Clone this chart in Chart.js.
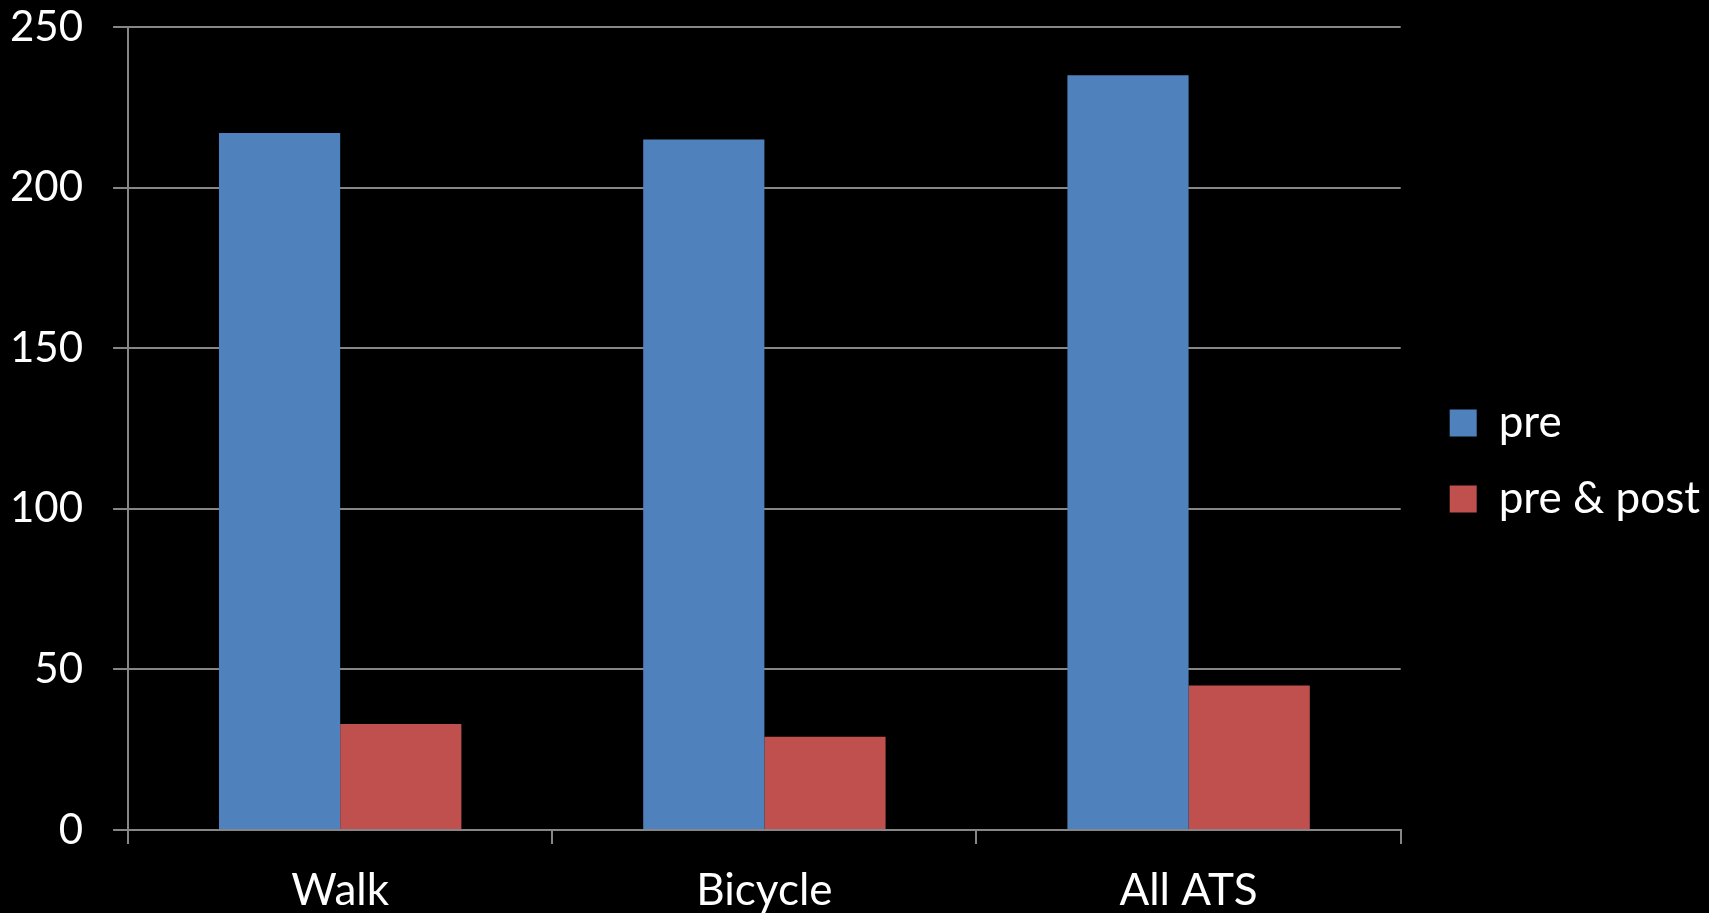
<!DOCTYPE html>
<html>
<head>
<meta charset="utf-8">
<script src="https://cdn.jsdelivr.net/npm/chart.js@4/dist/chart.umd.min.js"></script>
<style>
  html, body { margin: 0; padding: 0; background: #000; overflow: hidden; }
  #wrap { width: 1709px; height: 913px; }
</style>
</head>
<body>
<div id="wrap"><canvas id="myChart"></canvas></div>
<script>
const categories = ['Walk', 'Bicycle', 'All ATS'];
const preValues = [217, 215, 235];
const prePostValues = [33, 29, 45];
const yTicks = [0, 50, 100, 150, 200, 250];

const gridColor = '#868686';
const textColor = '#ffffff';
const fontFamily = 'Lato, "Open Sans", sans-serif';

Chart.defaults.font.family = fontFamily;
Chart.defaults.color = textColor;

// nudge the legend away from the plot
const legendShift = {
  id: 'legendShift',
  afterLayout(chart) {
    chart.legend.left += 17;
    chart.legend.right += 17;
    chart.legend.top -= 8;
    chart.legend.bottom -= 8;
  }
};

const ctx = document.getElementById('myChart').getContext('2d');
const myChart = new Chart(ctx, {
  type: 'bar',
  data: {
    labels: categories,
    datasets: [{
      label: 'pre',
      data: preValues,
      backgroundColor: '#4F81BD',
      categoryPercentage: 0.5714,
      barPercentage: 1
    }, {
      label: 'pre & post',
      data: prePostValues,
      backgroundColor: '#C0504D',
      categoryPercentage: 0.5714,
      barPercentage: 1
    }]
  },
  plugins: [legendShift],
  options: {
    responsive: true,
    maintainAspectRatio: false,
    animation: false,
    layout: {
      padding: { left: -20, top: 0, right: 16, bottom: -25 }
    },
    plugins: {
      legend: {
        position: 'right',
        labels: {
          color: textColor,
          boxWidth: 27,
          boxHeight: 27,
          padding: 32,
          font: { size: 44 }
        }
      },
      tooltip: { enabled: false }
    },
    scales: {
      x: {
        grid: {
          display: true,
          drawOnChartArea: false,
          drawTicks: true,
          tickLength: 14,
          color: gridColor,
          lineWidth: 2
        },
        border: { color: gridColor, width: 2 },
        ticks: {
          color: textColor,
          padding: 25,
          font: { size: 44, lineHeight: 1 }
        }
      },
      y: {
        min: 0,
        max: 250,
        afterBuildTicks: axis => {
          axis.ticks = yTicks.map(v => ({ value: v }));
        },
        afterFit: axis => {
          axis.paddingTop = 27;
          axis.paddingBottom = 0;
        },
        grid: {
          color: gridColor,
          lineWidth: 2,
          tickLength: 15
        },
        border: { color: gridColor, width: 2 },
        ticks: {
          color: textColor,
          padding: 30,
          font: { size: 42 }
        }
      }
    }
  }
});
</script>
</body>
</html>
